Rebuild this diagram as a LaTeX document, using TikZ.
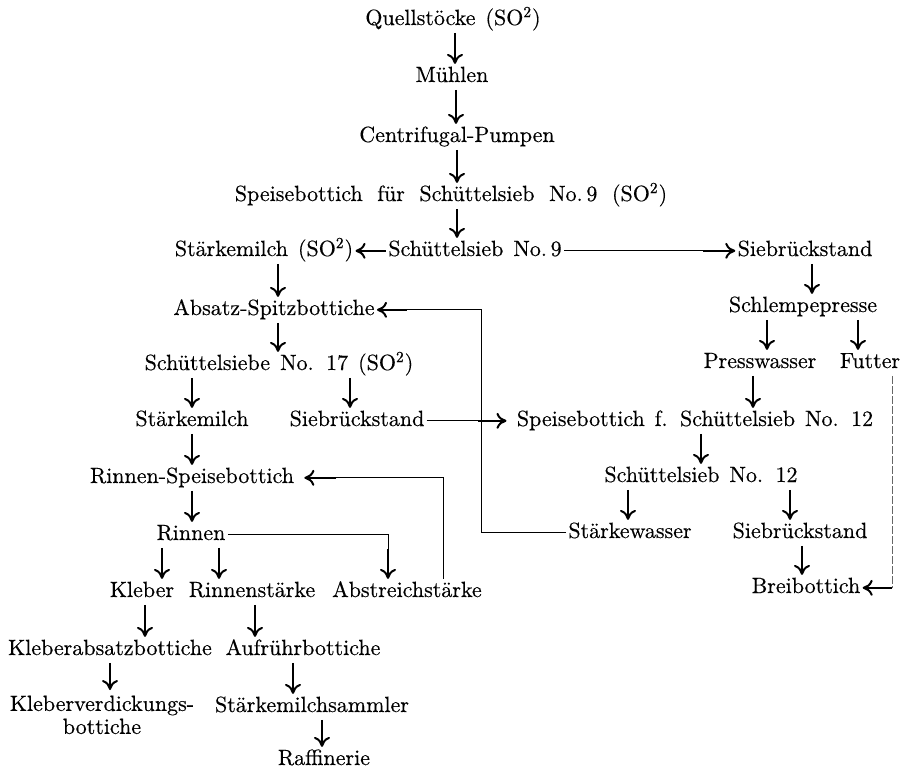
\documentclass[tikz,border=0pt]{standalone}
\usepackage{fontspec}
\setmainfont{lmroman10-regular}[Extension=.otf,FakeBold=0.4]
\usetikzlibrary{arrows.meta}
\newcommand\flowfont{\fontsize{11}{11.5}\selectfont\spaceskip=5pt\relax}
\newcommand\wideflowfont{\fontsize{11}{11.5}\selectfont\spaceskip=7.3pt\relax}

\begin{document}
\begin{tikzpicture}[x=0.5pt,y=-0.5pt,
  box/.style={anchor=base,inner xsep=1pt,inner ysep=2.6pt,
    text height=1.45ex,text depth=0.25ex,font=\flowfont},
  arr/.style={line width=1pt,-{Computer Modern Rightarrow[length=5pt,width=8pt]}},
  link/.style={line width=0.5pt},
  dotline/.style={line width=0.3pt,black!60,dash pattern=on 4pt off 1pt}]
  \useasboundingbox (0,0) rectangle (911,775);

  % main line
  \node[box] (quell) at (453,25) {Quellstöcke (SO\textsuperscript{2})};
  \node[box] (muehlen) at (452,82) {Mühlen};
  \node[box] (pumpen) at (457,142) {Centrifugal-Pumpen};
  \node[box,font=\wideflowfont] (speise9) at (451,201)
    {Speisebottich für Schüttelsieb No.\,9 (SO\textsuperscript{2})};
  \node[box] (sieb9) at (475,256) {Schüttelsieb No.\,9};
  \node[box] (milchA) at (264,256) {Stärkemilch (SO\textsuperscript{2})};
  \node[box] (rueckA) at (805,256) {Siebrückstand};

  % left column
  \node[box] (absatz) at (274,315) {Absatz-Spitzbottiche};
  \node[box] (sieb17) at (279,370) {Schüttelsiebe No. 17 (SO\textsuperscript{2})};
  \node[box] (milchB) at (192,426) {Stärkemilch};
  \node[box] (rueckB) at (357,426) {Siebrückstand};
  \node[box] (rinnenSp) at (192,483) {Rinnen-Speisebottich};
  \node[box] (rinnen) at (191,540) {Rinnen};
  \node[box] (kleber) at (142,597) {Kleber};
  \node[box] (rstaerke) at (252,597) {Rinnenstärke};
  \node[box] (astaerke) at (407,597) {Abstreichstärke};
  \node[box] (kabsatz) at (110,655) {Kleberabsatzbottiche};
  \node[box] (aufruehr) at (303,655) {Aufrührbottiche};
  \node[box,anchor=north,align=center,text height={},text depth={}] (kverd)
    at (102,690) {Kleberverdickungs-\\bottiche};
  \node[box] (sammler) at (312,712) {Stärkemilchsammler};
  \node[box] (raff) at (324,765) {Raffinerie};

  % right column
  \node[box] (schlempe) at (803,312) {Schlempepresse};
  \node[box] (presswasser) at (760,368) {Presswasser};
  \node[box] (futter) at (870,368) {Futter};
  \node[box] (speise12) at (695,426) {Speisebottich f. Schüttelsieb No. 12};
  \node[box] (sieb12) at (701,482) {Schüttelsieb No. 12};
  \node[box] (wasser) at (630,538) {Stärkewasser};
  \node[box] (rueckC) at (800,538) {Siebrückstand};
  \node[box] (brei) at (806,593) {Breibottich};

  \draw[arr] ([xshift=1pt]quell.south) -- ([xshift=1pt]quell.south |- muehlen.north);
  \draw[arr] ([xshift=2pt]muehlen.south) -- ([xshift=2pt]muehlen.south |- pumpen.north);
  \draw[arr] (pumpen.south) -- (pumpen.south |- speise9.north);
  \draw[arr] ([xshift=3pt]speise9.south) -- ([xshift=3pt]speise9.south |- sieb9.north);
  \draw[arr] (sieb9.west) -- (milchA.east);
  \draw[link] (sieb9.east) -- ([xshift=-16pt]rueckA.west);
  \draw[arr] ([xshift=-16pt]rueckA.west) -- (rueckA.west);

  \draw[arr] ([xshift=7pt]milchA.south) -- ([xshift=7pt]milchA.south |- absatz.north);
  \draw[arr] ([xshift=2pt]absatz.south) -- ([xshift=2pt]absatz.south |- sieb17.north);
  \draw[arr] (sieb17.south -| milchB.north) -- (milchB.north);
  \draw[arr] ([xshift=-3.5pt]rueckB.north |- sieb17.south) -- ([xshift=-3.5pt]rueckB.north);
  \draw[arr] (milchB.south) -- (milchB.south |- rinnenSp.north);
  \draw[arr] (rinnenSp.south) -- (rinnenSp.south |- rinnen.north);
  \draw[arr] ([xshift=10pt]kleber.north |- rinnen.south) -- ([xshift=10pt]kleber.north);
  \draw[arr] ([xshift=-16.5pt]rstaerke.north |- rinnen.south) -- ([xshift=-16.5pt]rstaerke.north);
  \draw[link] (rinnen.east) -| ([xshift=-9.5pt,yshift=15pt]astaerke.north);
  \draw[arr] ([xshift=-9.5pt,yshift=15pt]astaerke.north) -- ([xshift=-9.5pt]astaerke.north);
  \draw[link] ([xshift=18pt]astaerke.north) |- ([xshift=20pt]rinnenSp.east);
  \draw[arr] ([xshift=20pt]rinnenSp.east) -- ([xshift=4pt]rinnenSp.east);
  \draw[arr] ([xshift=1.5pt]kleber.south) -- ([xshift=1.5pt]kleber.south |- kabsatz.north);
  \draw[arr] ([xshift=1.5pt]rstaerke.south) -- ([xshift=1.5pt]rstaerke.south |- aufruehr.north);
  \draw[arr] (kabsatz.south) -- (kabsatz.south |- kverd.north);
  \draw[arr] ([xshift=-5pt]aufruehr.south) -- ([xshift=-5pt]aufruehr.south |- sammler.north);
  \draw[arr] ([xshift=-1pt]raff.north |- sammler.south) -- ([xshift=-1pt]raff.north);

  \draw[arr] ([xshift=3.5pt]rueckA.south) -- ([xshift=3.5pt]rueckA.south |- schlempe.north);
  \draw[arr] ([xshift=3.5pt]presswasser.north |- schlempe.south) -- ([xshift=3.5pt]presswasser.north);
  \draw[arr] ([xshift=-6pt]futter.north |- schlempe.south) -- ([xshift=-6pt]futter.north);
  \draw[arr] ([xshift=-3.5pt]presswasser.south) -- ([xshift=-3.5pt]presswasser.south |- speise12.north);
  \draw[link] (rueckB.east) -- ([xshift=-18pt]speise12.west);
  \draw[arr] ([xshift=-18pt]speise12.west) -- ([xshift=-4pt]speise12.west);
  \draw[arr] (speise12.south -| sieb12.north) -- (sieb12.north);
  \draw[arr] ([xshift=-1pt]wasser.north |- sieb12.south) -- ([xshift=-1pt]wasser.north);
  \draw[arr] ([xshift=-5pt]rueckC.north |- sieb12.south) -- ([xshift=-5pt]rueckC.north);
  \draw[link] (wasser.west) -- ++(-85,0) |- ([xshift=15pt]absatz.east);
  \draw[arr] ([xshift=15pt]absatz.east) -- (absatz.east);
  \draw[arr] ([xshift=1pt]rueckC.south) -- ([xshift=1pt]rueckC.south |- brei.north);
  \draw[dotline] ([xshift=11pt]futter.south) -- ([xshift=11pt]futter.south |- brei.east);
  \draw[arr] ([xshift=11pt]futter.south |- brei.east) -- (brei.east);
\end{tikzpicture}
\end{document}
